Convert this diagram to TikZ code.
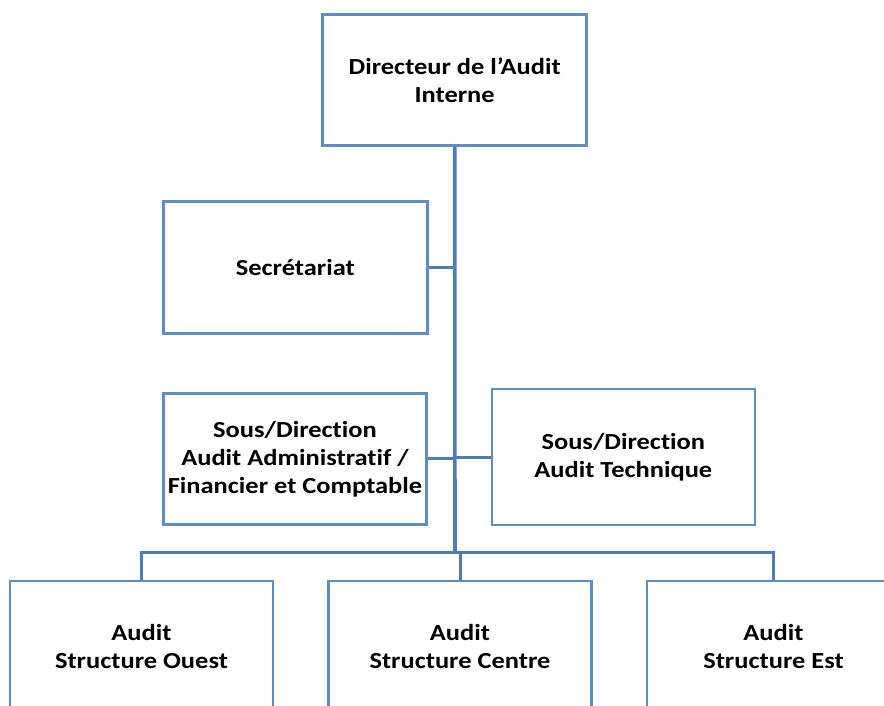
\documentclass[tikz,border=0pt]{standalone}
\usepackage{fontspec}
\setmainfont{Carlito}[FakeStretch=1.15,Ligatures=NoCommon]
\definecolor{boxblue}{RGB}{91,141,201}
\definecolor{linkblue}{RGB}{74,126,187}
\begin{document}
\begin{tikzpicture}[x=1pt,y=-1pt,
  unit/.style={draw=boxblue, line width=2.6pt, fill=white,
    minimum width=263pt, minimum height=131pt, inner sep=0pt,
    align=center, font=\fontsize{23}{28}\selectfont\bfseries},
  link/.style={draw=linkblue, line width=3pt},
  trunk/.style={draw=linkblue, line width=3.6pt}]
\useasboundingbox (0,0) rectangle (884,706);
\clip (0,0) rectangle (884,706);

% Units of the organisation chart
\node[unit, minimum width=264pt] (dir) at (454.7,80.2) {Directeur de l’Audit\\Interne};
\node[unit, minimum width=264pt, minimum height=131.6pt] (sec) at (295.3,267.5) {Secrétariat};
\node[unit] (adm) at (295,458.8) {Sous/Direction\\Audit Administratif /\\Financier et Comptable};
\node[unit, minimum height=136pt] (tec) at (623.3,457) {Sous/Direction\\Audit Technique};
\node[unit] (ouest) at (141.5,646.5) {Audit\\Structure Ouest};
\node[unit] (centre) at (460,646.5) {Audit\\Structure Centre};
\node[unit, minimum width=253pt] (est) at (773.5,646.5) {Audit\\Structure Est};

% Reporting lines
\coordinate (bus) at (455,552.5);
\draw[trunk] (dir.south) -- (bus);
\draw[link] (sec.east) -- (sec.east -| bus);
\draw[link] (adm.east) -- (adm.east -| bus);
\draw[link] (tec.west) -- (tec.west -| bus);
\draw[link] (ouest.north) |- (bus) -| (est.north);
\draw[link] (centre.north) -- (centre.north |- bus);
\end{tikzpicture}
\end{document}
